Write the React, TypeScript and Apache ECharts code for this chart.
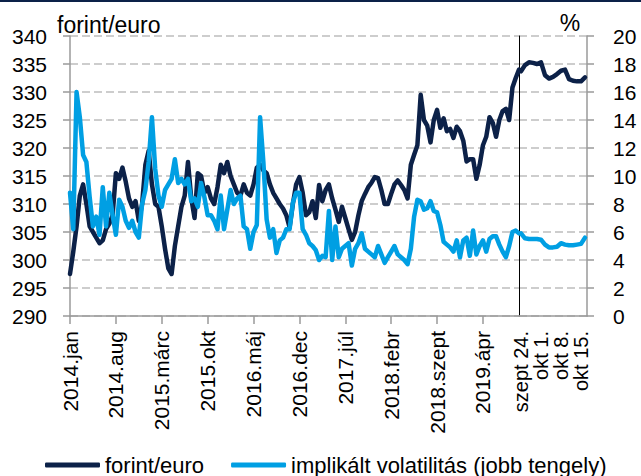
import React, { useEffect, useRef } from 'react';
import * as echarts from 'echarts';

const NAVY = '#0c2148';
const LIGHT = '#009fe3';
const AXIS = '#9a9a9a';
const GRID = '#bdbdbd';
const FONT = '"Liberation Sans", Arial, sans-serif';

const SERIES_FX = 'forint/euro';
const SERIES_VOL = 'implikált volatilitás (jobb tengely)';

// Semi-monthly historic observations, 2014 jan - 2019 szept
const HU_MONTHS = ['jan', 'febr', 'márc', 'ápr', 'máj', 'jún', 'júl', 'aug', 'szept', 'okt', 'nov', 'dec'];
const HIST_TICKS = ['2014.jan', '2014.aug', '2015.márc', '2015.okt', '2016.máj', '2016.dec', '2017.júl', '2018.febr', '2018.szept', '2019.ápr'];

const HIST_FX = [
  297.5, 301.5, 306, 311.5, 313.5, 310, 306, 305, 304, 303,
  303.5, 305.5, 306.5, 308, 315.5, 314.5, 316.5, 314, 311, 309.5,
  310.5, 307, 310, 317, 319.5, 313.5, 310, 309.5, 306, 302,
  298.5, 297.5, 302.5, 306, 309.5, 311.5, 317.5, 311, 307.5, 315.5,
  315, 312, 313, 311, 310, 313, 317, 315.5, 317.5, 315,
  313.5, 312, 311.5, 313.5, 312, 311.5, 313.5, 316.5, 317, 316,
  315.5, 313.5, 312, 311, 310, 309.2, 308, 305.8, 310, 313.5,
  314.8, 312, 308, 308.5, 310.5, 307.5, 313.4, 310.5, 312.5, 313.5,
  311, 309, 306.8, 309.5, 307.5, 305.5, 303.6, 305, 308, 310.5,
  311.8, 313, 313.8, 314.8, 314.6, 312.5, 310, 310, 311.8, 313.5,
  314.2, 313.4, 312.5, 311, 317, 318.8, 320.5, 329.5, 325, 324,
  321, 325, 326.8, 323.6, 325.3, 323, 323.4, 321.8, 323.8, 323,
  321.3, 317.6, 318, 318, 314.5, 317, 320.5, 322, 325.5, 324.5,
  322, 325, 326.6, 327, 325, 330.8, 332.5, 334,
];

const HIST_VOL = [
  8.8, 6.2, 16, 14.2, 11.5, 11, 8.5, 6.4, 7.1, 5.8,
  9.2, 6.4, 8.8, 7.2, 5.8, 8.3, 7.8, 6.8, 6.3, 6.8,
  6, 5.6, 8, 9, 11, 14.2, 10.5, 8.6, 7.8, 9,
  9.4, 9.8, 11.2, 9.5, 9.8, 9.4, 9.8, 8.2, 8.4, 7.8,
  9.5, 8.5, 7.2, 7.2, 6.8, 6.2, 8.6, 6.2, 7.6, 9,
  8, 8.4, 8.6, 6.4, 6.2, 4.8, 6, 6.5, 14.2, 11,
  6.9, 5.6, 6.2, 4.5, 5.4, 5.6, 6.2, 6.2, 8.1, 8.8,
  8.8, 6.2, 5.8, 5.2, 5, 4.7, 4, 4.3, 4.2, 7.5,
  4, 6.4, 4.2, 4.8, 5, 5.2, 3.6, 4.8, 5.2, 5.9,
  4.8, 4.6, 4.4, 4.2, 5, 4.4, 3.8, 4.2, 4.6, 5,
  4.4, 4.2, 4, 3.7, 4.8, 7.1, 8.3, 8.2, 7.6, 7.7,
  8.2, 7.5, 7.4, 6.5, 5.3, 5.1, 4.9, 4.6, 5.4, 4.2,
  5.4, 5.6, 4.3, 6.1, 4.4, 5, 5.4, 4.6, 5.5, 5.7,
  5.7, 5.1, 4.6, 4.2, 5, 6, 6.1, 5.9,
];

// Daily observations, 2019 szept 24 - okt 16
const DAILY_CATS = [
  'szept 24.', 'szept 25.', 'szept 26.', 'szept 27.', 'szept 30.',
  'okt 1.', 'okt 2.', 'okt 3.', 'okt 4.', 'okt 7.',
  'okt 8.', 'okt 9.', 'okt 10.', 'okt 11.', 'okt 14.',
  'okt 15.', 'okt 16.',
];
const DAILY_FX = [333.7, 334.8, 335.3, 335.2, 335, 335.3, 333, 332.4, 332.7, 333.2, 333.8, 334, 332.3, 332, 331.9, 331.9, 332.6];
const DAILY_VOL = [5.9, 5.55, 5.5, 5.5, 5.5, 5.45, 5.1, 4.9, 4.9, 4.95, 5.2, 5.1, 5.05, 5.05, 5.1, 5.15, 5.6];

const HIST_CATS: string[] = HIST_FX.map((_, i) => {
  const m = Math.floor(i / 2);
  const y = 2014 + Math.floor(m / 12);
  const base = `${y}.${HU_MONTHS[m % 12]}`;
  return i % 2 === 0 ? base : `${base} II`;
});

const axisLineStyle = { color: AXIS, width: 1.5 };
const labelStyle = { fontSize: 21, color: '#000', fontFamily: FONT };

export default function App() {
  const ref = useRef<HTMLDivElement>(null);
  useEffect(() => {
    document.body.style.margin = '0';
    const chart = echarts.init(ref.current as HTMLDivElement, null, { renderer: 'svg' });
    const lineCommon = {
      type: 'line' as const,
      symbol: 'none',
      showSymbol: false,
    };
    const lw = 4.5;
    chart.setOption({
      animation: false,
      backgroundColor: '#fff',
      textStyle: { fontFamily: FONT },
      grid: [
        { left: 70, right: 122, top: 36, bottom: 160 },
        { left: 519, right: 54, top: 36, bottom: 160 },
      ],
      xAxis: [
        {
          type: 'category', gridIndex: 0, data: HIST_CATS, boundaryGap: false,
          axisLine: { lineStyle: axisLineStyle },
          axisTick: { interval: 13, length: 8, lineStyle: axisLineStyle },
          axisLabel: {
            ...labelStyle, interval: 13, rotate: 90, margin: 15,
            hideOverlap: false, showMinLabel: true,
            formatter: (v: string) => v.split(' ')[0],
          },
          splitLine: { show: false },
        },
        {
          type: 'category', gridIndex: 1, data: DAILY_CATS, boundaryGap: true,
          axisLine: { lineStyle: axisLineStyle },
          axisTick: { alignWithLabel: true, interval: 4, length: 8, lineStyle: axisLineStyle },
          axisLabel: {
            ...labelStyle, fontSize: 20, lineHeight: 16, rotate: 90, margin: 15,
            interval: (i: number) => i % 5 === 0 && i < 16,
            hideOverlap: false, showMinLabel: true,
          },
          splitLine: { show: false },
        },
      ],
      yAxis: [
        {
          type: 'value', gridIndex: 0, min: 290, max: 340, interval: 5, position: 'left',
          axisLine: { show: true, lineStyle: axisLineStyle },
          axisTick: { show: true, length: 7, lineStyle: axisLineStyle },
          axisLabel: { ...labelStyle, margin: 23 },
          splitLine: { show: true, lineStyle: { color: GRID, type: [8, 4], width: 1.5 } },
        },
        { type: 'value', gridIndex: 0, min: 0, max: 20, interval: 2, position: 'right', show: false },
        {
          type: 'value', gridIndex: 1, min: 290, max: 340, interval: 5, position: 'left',
          axisLine: { show: true, lineStyle: { color: '#000', width: 1 } },
          axisTick: { show: false }, axisLabel: { show: false }, splitLine: { show: false },
        },
        {
          type: 'value', gridIndex: 1, min: 0, max: 20, interval: 2, position: 'right',
          axisLine: { show: true, lineStyle: axisLineStyle },
          axisTick: { show: true, length: 7, lineStyle: axisLineStyle },
          axisLabel: { ...labelStyle, margin: 26 },
          splitLine: { show: true, lineStyle: { color: GRID, type: [8, 4], width: 1.5 } },
        },
      ],
      legend: {
        data: [SERIES_FX, SERIES_VOL],
        left: 40, top: 449,
        icon: 'roundRect', itemWidth: 55, itemHeight: 5, itemGap: 27,
        textStyle: { fontSize: 22, color: '#000', fontFamily: FONT },
      },
      graphic: [
        { type: 'rect', shape: { x: 0, y: 0, width: 641, height: 2 }, style: { fill: NAVY } },
        { type: 'text', x: 57, y: 25, style: { text: 'forint/euro', fontSize: 23, fill: '#000', fontFamily: FONT, verticalAlign: 'middle' } },
        { type: 'text', x: 570, y: 23, style: { text: '%', fontSize: 23, fill: '#000', fontFamily: FONT, align: 'center', verticalAlign: 'middle' } },
      ],
      series: [
        { ...lineCommon, name: SERIES_FX, xAxisIndex: 0, yAxisIndex: 0, data: HIST_FX, color: NAVY, lineStyle: { width: lw, color: NAVY, cap: 'round', join: 'round' } },
        { ...lineCommon, name: SERIES_FX, xAxisIndex: 1, yAxisIndex: 2, data: DAILY_FX, color: NAVY, lineStyle: { width: lw, color: NAVY, cap: 'round', join: 'round' } },
        { ...lineCommon, name: SERIES_VOL, xAxisIndex: 0, yAxisIndex: 1, data: HIST_VOL, color: LIGHT, lineStyle: { width: lw, color: LIGHT, cap: 'round', join: 'round' } },
        { ...lineCommon, name: SERIES_VOL, xAxisIndex: 1, yAxisIndex: 3, data: DAILY_VOL, color: LIGHT, lineStyle: { width: lw, color: LIGHT, cap: 'round', join: 'round' } },
      ],
    });
    return () => chart.dispose();
  }, []);
  return <div ref={ref} style={{ width: 641, height: 476 }} />;
}
